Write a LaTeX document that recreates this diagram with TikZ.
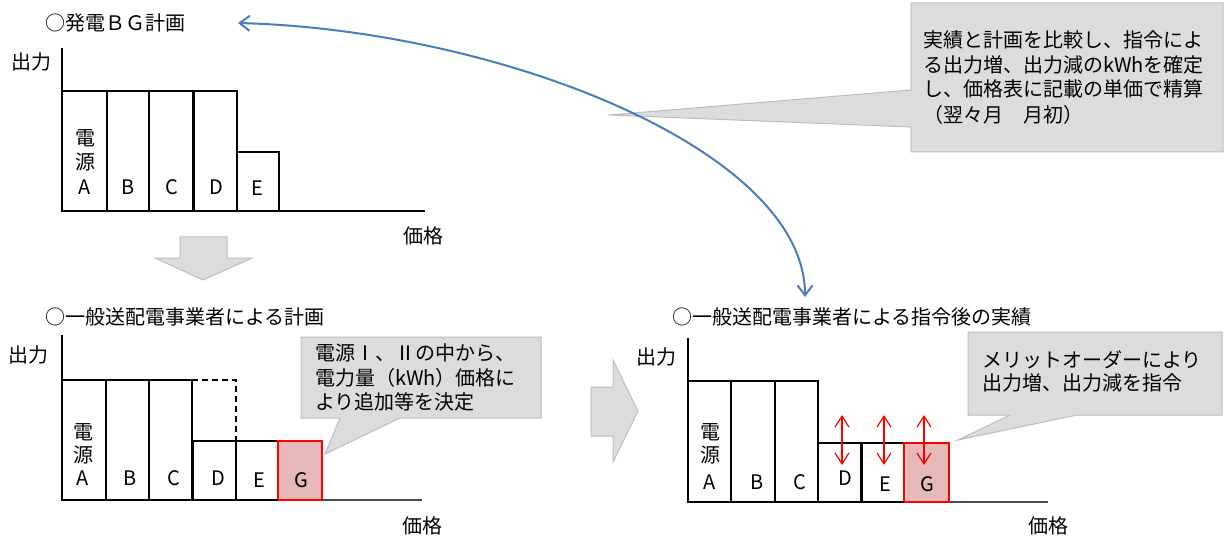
\documentclass[tikz,border=0pt]{standalone}
\usepackage{fontspec}
\setmainfont{Noto Sans CJK JP}
\usetikzlibrary{arrows.meta}
\definecolor{callgray}{HTML}{DCDCDC}
\definecolor{callborder}{HTML}{BDBDBD}
\definecolor{gpink}{HTML}{E6B9B8}
\definecolor{curveblue}{HTML}{4A7EBB}
\begin{document}
\begin{tikzpicture}[x=1pt,y=-1pt,
  jp/.style={font=\fontsize{20}{25}\selectfont, inner sep=0pt, anchor=base west},
  lb/.style={font=\fontsize{20}{25}\selectfont, inner sep=0pt, anchor=base},
  barline/.style={draw=black, line width=1.4pt},
  axisline/.style={draw=black, line width=1.4pt},
  thickline/.style={draw=black, line width=3pt},
  gbar/.style={draw=red, line width=1.6pt, fill=gpink},
  callshape/.style={fill=callgray, draw=callborder, line width=1pt},
  bigarrow/.style={fill=callgray, draw=callborder, line width=1pt},
  redarrow/.style={draw=red, line width=1.2pt, {Straight Barb[length=11pt,width=14pt]}-{Straight Barb[length=11pt,width=14pt]}},
  bluearrow/.style={draw=curveblue, line width=2pt, {Straight Barb[length=10pt,width=15pt]}-{Straight Barb[length=10pt,width=15pt]}}
]
\useasboundingbox (0,0) rectangle (1225,537);
\fill[white] (0,0) rectangle (1225,537);

% ---------- top-right callout ----------
\draw[callshape] (911,3) -- (1223,3) -- (1223,152) -- (911,152) -- (911,127) -- (609,115) -- (911,90) -- cycle;
\node[jp] (n1) at (923,47.5) {実績と計画を比較し、指令によ};
\node[jp] (n2) at (923,72.5) {る出力増、出力減のkWhを確定};
\node[jp] (n3) at (923,96.5) {し、価格表に記載の単価で精算};
\node[jp] (n4) at (923,122.5) {（翌々月　月初）};

% ---------- panel 1 ----------
\node[jp] (t1) at (45,30.5) {○発電ＢＧ計画};
\node[lb] (y1) at (31,69.5) {出力};
\node[jp] (x1) at (403,243.5) {価格};
\draw[barline] (62,91) rectangle (107,211);
\draw[barline] (107,91) rectangle (149,211);
\draw[barline] (149,91) rectangle (193,211);
\draw[barline] (193,91) rectangle (237,211);
\draw[barline] (237,152) rectangle (279,211);
\draw[thickline] (193,91) -- (193,211);
\draw[axisline] (62,48) -- (62,211) -- (425,211);
\node[lb] (p1a1) at (85,145.5) {電};
\node[lb] (p1a2) at (85,169.5) {源};
\node[lb] (p1a3) at (85,194.5) {A};
\node[lb] (p1b) at (128,195) {B};
\node[lb] (p1c) at (172,195) {C};
\node[lb] (p1d) at (216,195) {D};
\node[lb] (p1e) at (257,195.5) {E};

% down arrow
\draw[bigarrow] (180,237) -- (227,237) -- (227,258) -- (252,258) -- (203,280) -- (155,258) -- (180,258) -- cycle;

% ---------- panel 2 ----------
\node[jp] (t2) at (45,324.5) {○一般送配電事業者による計画};
\node[lb] (y2) at (29,362.5) {出力};
\node[jp] (x2) at (402,533) {価格};
\draw[barline] (62,380) rectangle (106,500);
\draw[barline] (106,380) rectangle (149,500);
\draw[barline] (149,380) rectangle (192,500);
\draw[barline, dash pattern=on 6pt off 4pt] (192,380) -- (236,380) -- (236,441);
\draw[barline] (192,441) rectangle (236,500);
\draw[barline] (236,441) rectangle (278,500);
\draw[gbar] (278,441) rectangle (322,500);
\draw[thickline] (192,441) -- (192,500);
\draw[axisline] (62,335) -- (62,500) -- (278,500);
\draw[draw=black!70, line width=1.4pt] (322,500) -- (422,500);
\node[lb] (p2a1) at (83,439.5) {電};
\node[lb] (p2a2) at (83,462.5) {源};
\node[lb] (p2a3) at (83,485.5) {A};
\node[lb] (p2b) at (130,485.5) {B};
\node[lb] (p2c) at (174,485.5) {C};
\node[lb] (p2d) at (218,485.5) {D};
\node[lb] (p2e) at (259,487.5) {E};
\node[lb] (p2g) at (301,487.5) {G};
% callout 2
\draw[callshape] (301,337) -- (541,337) -- (541,418) -- (400,418) -- (325,454) -- (340,418) -- (301,418) -- cycle;
\node[jp] (m1) at (315,360.5) {電源Ⅰ、Ⅱの中から、};
\node[jp] (m2) at (315,385.5) {電力量（kWh）価格に};
\node[jp] (m3) at (315,409.5) {より追加等を決定};

% right arrow
\draw[bigarrow] (591,387) -- (613,387) -- (613,360) -- (638,411) -- (613,462) -- (613,436) -- (591,436) -- cycle;

% ---------- panel 3 ----------
\node[jp] (t3) at (672,324.5) {○一般送配電事業者による指令後の実績};
\node[lb] (y3) at (656,364.5) {出力};
\node[jp] (x3) at (1028,533) {価格};
\draw[barline] (688,381) rectangle (731,502);
\draw[barline] (731,381) rectangle (775,502);
\draw[barline] (775,381) rectangle (818,502);
\draw[barline] (818,443) rectangle (861,502);
\draw[barline] (861,443) rectangle (904,502);
\draw[gbar] (904,443) rectangle (949,502);
\draw[thickline] (861,443) -- (861,502);
\draw[axisline] (688,338) -- (688,502) -- (904,502);
\draw[draw=black!70, line width=1.4pt] (949,502) -- (1048,502);
\node[lb] (p3a1) at (710,439.5) {電};
\node[lb] (p3a2) at (710,462.5) {源};
\node[lb] (p3a3) at (710,489.5) {A};
\node[lb] (p3b) at (757,489.5) {B};
\node[lb] (p3c) at (800,489.5) {C};
\node[lb] (p3d) at (845,485.5) {D};
\node[lb] (p3e) at (885,491.5) {E};
\node[lb] (p3g) at (927,491.5) {G};
\coordinate (rdT) at (842,415); \coordinate (rdB) at (842,465);
\coordinate (reT) at (884,415); \coordinate (reB) at (884,465);
\coordinate (rgT) at (924,415); \coordinate (rgB) at (924,465);
\draw[redarrow] (rdT) -- (rdB);
\draw[redarrow] (reT) -- (reB);
\draw[redarrow] (rgT) -- (rgB);
% callout 3
\draw[callshape] (968,332) -- (1222,332) -- (1222,415) -- (1077,415) -- (958,440) -- (1010,415) -- (968,415) -- cycle;
\node[jp] (k1) at (982,367.5) {メリットオーダーにより};
\node[jp] (k2) at (982,390.5) {出力増、出力減を指令};

% ---------- blue curve ----------
\coordinate (cA) at (238,23);
\coordinate (cB) at (805,297);
\draw[bluearrow] (cA) .. controls (500,30) and (805,150) .. (cB);
\end{tikzpicture}
\end{document}
